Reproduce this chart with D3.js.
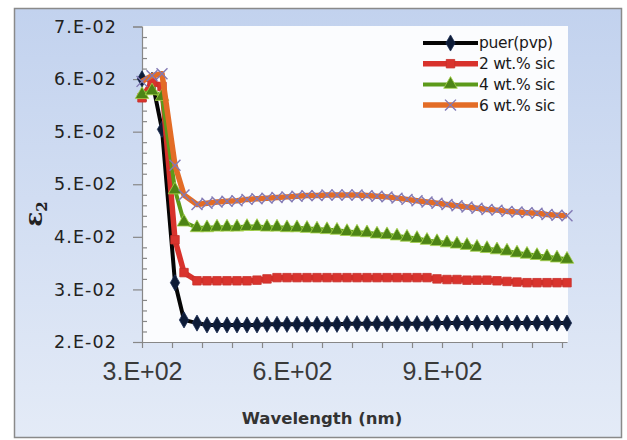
<!DOCTYPE html>
<html>
<head>
<meta charset="utf-8">
<script src="https://cdn.jsdelivr.net/npm/d3@7"></script>
<style>
  html, body { margin: 0; padding: 0; background: #ffffff; }
  svg { display: block; }
</style>
</head>
<body>
<svg id="chart" width="627" height="440"></svg>
<script>
// Wavelength samples (nm)
const wavelengths = [300, 320, 340, 366, 384, 410, 430, 450, 470, 490, 510, 530, 550, 570, 590,
  610, 630, 650, 670, 690, 710, 730, 750, 770, 790, 810, 830, 850, 870, 890, 910, 930, 950,
  970, 990, 1010, 1030, 1050, 1070, 1090, 1110, 1130, 1150];

// Imaginary part of the dielectric constant, epsilon_2
const pvp = [0.0617, 0.0615, 0.0537, 0.0294, 0.0235, 0.0230, 0.0227, 0.0227, 0.0227, 0.0227,
  0.0227, 0.0227, 0.0228, 0.0228, 0.0228, 0.0228, 0.0228, 0.0228, 0.0228, 0.0228, 0.0229,
  0.0229, 0.0229, 0.0229, 0.0229, 0.0229, 0.0229, 0.0229, 0.0229, 0.0230, 0.0230, 0.0230,
  0.0230, 0.0230, 0.0230, 0.0230, 0.0230, 0.0230, 0.0230, 0.0230, 0.0230, 0.0230, 0.0230];
const sic2 = [0.0587, 0.0612, 0.0605, 0.0362, 0.0310, 0.0297, 0.0297, 0.0297, 0.0297, 0.0297,
  0.0297, 0.0298, 0.0300, 0.0302, 0.0302, 0.0302, 0.0302, 0.0302, 0.0302, 0.0302, 0.0302,
  0.0302, 0.0302, 0.0302, 0.0302, 0.0302, 0.0302, 0.0302, 0.0302, 0.0300, 0.0299, 0.0299,
  0.0298, 0.0298, 0.0298, 0.0297, 0.0296, 0.0295, 0.0294, 0.0294, 0.0294, 0.0294, 0.0294];
const sic4 = [0.0592, 0.0598, 0.0589, 0.0441, 0.0390, 0.0381, 0.0381, 0.0382, 0.0382, 0.0382,
  0.0383, 0.0383, 0.0382, 0.0382, 0.0381, 0.0381, 0.0380, 0.0379, 0.0378, 0.0377, 0.0375,
  0.0374, 0.0373, 0.0371, 0.0370, 0.0368, 0.0366, 0.0364, 0.0361, 0.0359, 0.0357, 0.0355,
  0.0353, 0.0350, 0.0348, 0.0346, 0.0344, 0.0341, 0.0339, 0.0337, 0.0335, 0.0333, 0.0331];
const sic6 = [0.0613, 0.0622, 0.0625, 0.0480, 0.0433, 0.0418, 0.0420, 0.0422, 0.0423, 0.0424,
  0.0426, 0.0427, 0.0428, 0.0429, 0.0430, 0.0431, 0.0432, 0.0432, 0.0433, 0.0433, 0.0433,
  0.0433, 0.0432, 0.0431, 0.0430, 0.0428, 0.0426, 0.0424, 0.0422, 0.0420, 0.0418, 0.0416,
  0.0414, 0.0412, 0.0410, 0.0409, 0.0407, 0.0406, 0.0405, 0.0404, 0.0402, 0.0401, 0.0400];

const seriesNames = ["puer(pvp)", "2 wt.% sic", "4 wt.% sic", "6 wt.% sic"];

// Axis ticks and their labels
const yTickValues = [0.02, 0.02 + 0.05 / 6, 0.02 + 0.10 / 6, 0.02 + 0.15 / 6, 0.02 + 0.20 / 6, 0.02 + 0.25 / 6, 0.07];
const yTickLabels = ["2.E-02", "3.E-02", "4.E-02", "5.E-02", "5.E-02", "6.E-02", "7.E-02"];
const xTickValues = [300, 360, 420, 480, 540, 600, 660, 720, 780, 840, 900, 960, 1020, 1080, 1140];
const xLabelValues = [300, 600, 900];
const xTickLabels = ["3.E+02", "6.E+02", "9.E+02"];

const svg = d3.select("#chart");

// Chart area background
const defs = svg.append("defs");
const grad = defs.append("linearGradient").attr("id", "bg").attr("x1", 0).attr("y1", 0).attr("x2", 0).attr("y2", 1);
grad.append("stop").attr("offset", "0%").attr("stop-color", "#c2d2ee");
grad.append("stop").attr("offset", "100%").attr("stop-color", "#e4ebf7");

svg.append("rect")
  .attr("x", 14.5).attr("y", 8.5).attr("width", 607).attr("height", 429)
  .attr("fill", "url(#bg)").attr("stroke", "#8a8a8a").attr("stroke-width", 1.5);

const plot = { left: 142, right: 568, top: 26, bottom: 342 };

svg.append("rect")
  .attr("x", plot.left).attr("y", plot.top)
  .attr("width", plot.right - plot.left).attr("height", plot.bottom - plot.top)
  .attr("fill", "#fbfcfe");

const x = d3.scaleLinear().domain([300, 1150]).range([plot.left, 567]);
const y = d3.scaleLinear().domain([0.02, 0.07]).range([plot.bottom, plot.top + 0.5]);

// Y axis: major ticks outside with labels, minor ticks inside
const yMinor = [];
for (let i = 0; i < yTickValues.length - 1; i++) {
  for (let k = 1; k < 5; k++) yMinor.push(yTickValues[i] + (yTickValues[i + 1] - yTickValues[i]) * k / 5);
}
const yAxisG = svg.append("g").attr("transform", `translate(${plot.left},0)`)
  .call(d3.axisLeft(y).tickValues(yTickValues).tickSize(9).tickPadding(16)
    .tickFormat((d, i) => yTickLabels[i]));
svg.append("g").attr("transform", `translate(${plot.left},0)`)
  .call(d3.axisRight(y).tickValues(yMinor).tickSize(5).tickFormat(""))
  .call(g => g.select(".domain").remove());

yAxisG.select(".domain").attr("stroke", "#878787").attr("stroke-width", 1.2);
svg.selectAll(".tick line").attr("stroke", "#878787").attr("stroke-width", 1.2);
yAxisG.selectAll("text")
  .attr("font-family", "DejaVu Sans, Verdana, sans-serif")
  .attr("font-size", 17.5).attr("letter-spacing", 1.1)
  .attr("fill", "#222222");

// X axis
const xAxisG = svg.append("g").attr("transform", `translate(0,${plot.bottom})`)
  .call(d3.axisBottom(x).tickValues(xTickValues).tickSize(6).tickPadding(14).tickSizeOuter(0)
    .tickFormat(d => { const i = xLabelValues.indexOf(d); return i >= 0 ? xTickLabels[i] : ""; }));
xAxisG.select(".domain").attr("stroke", "#878787").attr("stroke-width", 1.2);
xAxisG.selectAll(".tick line").attr("stroke", "#878787").attr("stroke-width", 1.2);
xAxisG.selectAll("text")
  .attr("font-family", "Liberation Sans, Arial, sans-serif")
  .attr("font-size", 25).attr("fill", "#3a3a3a");

// Axis titles
svg.append("text")
  .attr("x", 322).attr("y", 424)
  .attr("text-anchor", "middle")
  .attr("font-family", "DejaVu Sans, sans-serif").attr("font-weight", "bold")
  .attr("font-size", 16.5).attr("fill", "#333333")
  .text("Wavelength (nm)");

const yTitle = svg.append("text")
  .attr("transform", "translate(42,214) rotate(-90)")
  .attr("text-anchor", "middle")
  .attr("font-family", "DejaVu Serif, serif").attr("font-weight", "bold")
  .attr("font-size", 25).attr("fill", "#222222");
yTitle.append("tspan").text("ε");
yTitle.append("tspan").attr("font-size", 15).attr("dy", 5).text("2");

// Series
const series = [
  { name: seriesNames[0], values: pvp,  line: "#050505", width: 4,   marker: "diamond", fill: "#0d1b36", stroke: "#1d2f55", size: 75 },
  { name: seriesNames[1], values: sic2, line: "#d8322c", width: 5.5, marker: "square",  fill: "#d9342e", stroke: "#c8302a", size: 72 },
  { name: seriesNames[2], values: sic4, line: "#5c9a1a", width: 4,   marker: "triangle",fill: "#4d8416", stroke: "#a6d34a", size: 80 },
  { name: seriesNames[3], values: sic6, line: "#e36c26", width: 5.5, marker: "times",   fill: "none",    stroke: "#8279b4", size: 80 }
];

const symbolType = {
  diamond: d3.symbolDiamond,
  square: d3.symbolSquare,
  triangle: d3.symbolTriangle,
  times: d3.symbolTimes || d3.symbolX
};

const lineGen = d3.line().x(d => x(d[0])).y(d => y(d[1]));

function markerPath(s) {
  return d3.symbol().type(symbolType[s.marker]).size(s.size)();
}

series.forEach(s => {
  const pts = wavelengths.map((w, i) => [w, s.values[i]]);
  const g = svg.append("g");
  g.append("path").attr("d", lineGen(pts))
    .attr("fill", "none").attr("stroke", s.line).attr("stroke-width", s.width)
    .attr("stroke-linejoin", "round");
  g.selectAll("path.m").data(pts).join("path").attr("class", "m")
    .attr("d", markerPath(s))
    .attr("transform", d => `translate(${x(d[0])},${y(d[1])})`)
    .attr("fill", s.fill).attr("stroke", s.stroke)
    .attr("stroke-width", s.marker === "times" ? 1.4 : 0.8);
});

// Legend
const legend = svg.append("g").attr("transform", "translate(423,43)");
series.forEach((s, i) => {
  const row = legend.append("g").attr("transform", `translate(0,${i * 20.7})`);
  row.append("line").attr("x1", 0).attr("x2", 55).attr("y1", 0).attr("y2", 0)
    .attr("stroke", s.line).attr("stroke-width", s.width);
  row.append("path").attr("d", markerPath(s))
    .attr("transform", "translate(27.5,0)")
    .attr("fill", s.fill).attr("stroke", s.stroke)
    .attr("stroke-width", s.marker === "times" ? 1.4 : 0.8);
  row.append("text").attr("x", 56).attr("y", 0).attr("dy", "0.35em")
    .attr("font-family", "DejaVu Sans, sans-serif").attr("font-size", 15.5)
    .attr("letter-spacing", -0.3)
    .attr("fill", "#1a1a1a").text(s.name);
});
</script>
</body>
</html>
